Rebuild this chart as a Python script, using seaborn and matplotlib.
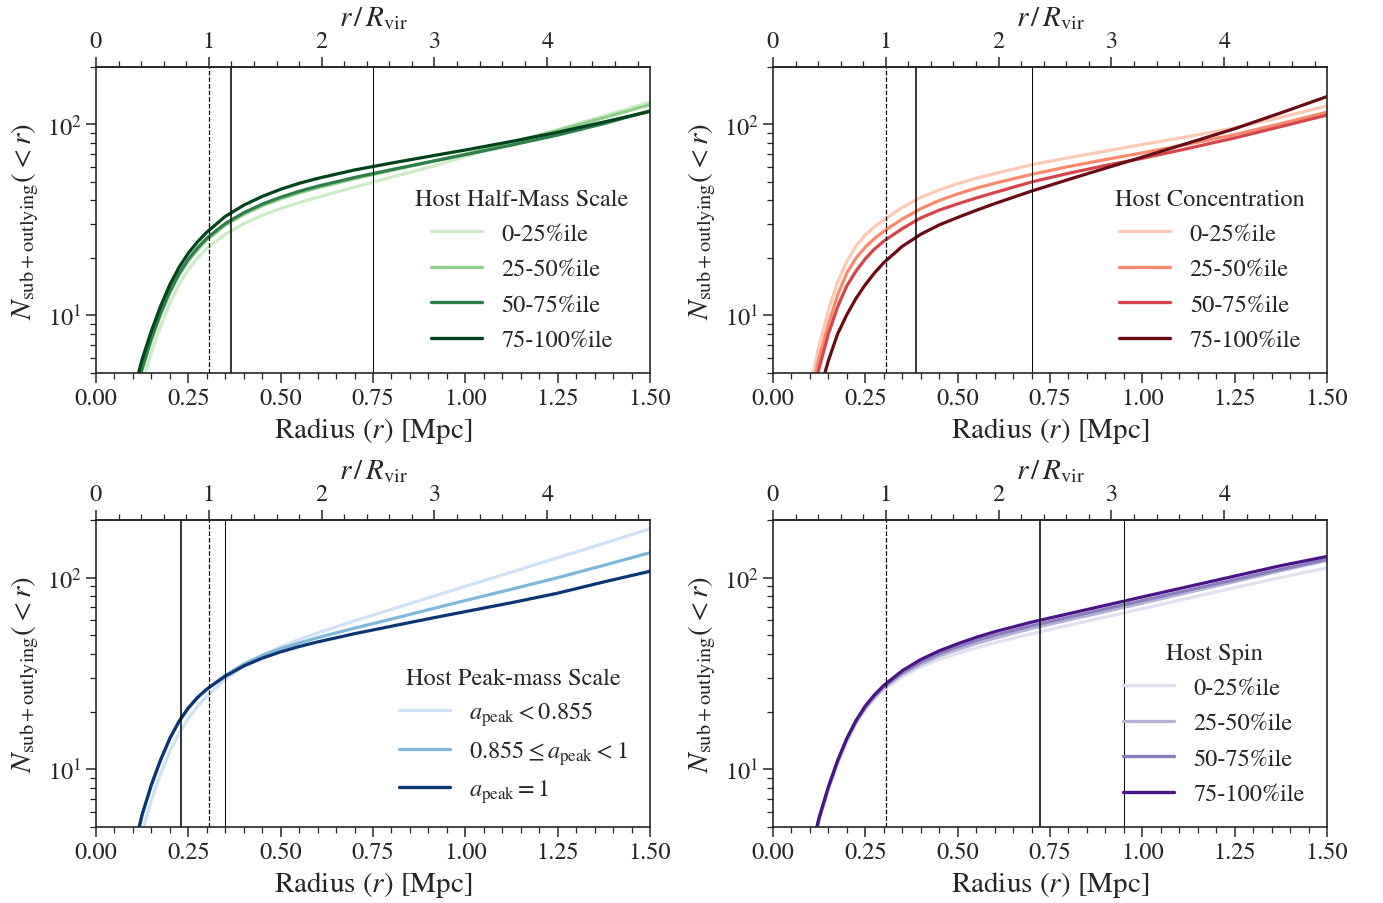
import numpy as np
import pandas as pd
import seaborn as sns
import matplotlib
matplotlib.use("Agg")
import matplotlib.pyplot as plt
from matplotlib.ticker import MultipleLocator, NullFormatter, LogLocator

# radius grid (Mpc) at which curves were read
radius = [0.10, 0.11, 0.125, 0.15, 0.175, 0.2, 0.225, 0.25, 0.275, 0.3, 0.35,
          0.4, 0.45, 0.5, 0.55, 0.6, 0.7, 0.8, 0.9, 1.0, 1.125, 1.25, 1.375, 1.5]
r_vir = 0.3055

pct_labels = ["0-25%ile", "25-50%ile", "50-75%ile", "75-100%ile"]
apeak_labels = [r"$a_{\rm peak} < 0.855$",
                r"$0.855 \leq a_{\rm peak} < 1$",
                r"$a_{\rm peak} = 1$"]

# host half-mass scale
halfmass_vals = [
    [2.6, 3.3, 4.4, 6.4, 8.8, 11.6, 14.5, 17.4, 20.0, 22.4, 26.6, 30.2, 33.4, 36.3, 39.0, 41.6, 47.0, 53, 59.5, 68, 80, 94, 111, 131],
    [3.1, 4.0, 5.2, 7.4, 10.1, 13.1, 16.3, 19.3, 22.1, 24.9, 29.7, 33.8, 37.5, 40.8, 43.8, 46.6, 52, 57.5, 63.5, 70, 80.5, 93, 108.5, 127],
    [3.2, 4.1, 5.3, 7.6, 10.3, 13.4, 16.6, 19.7, 22.6, 25.4, 30.3, 34.5, 38.3, 41.6, 44.7, 47.5, 52.8, 58, 63.5, 69.5, 78, 88, 101, 118],
    [3.6, 4.6, 5.9, 8.3, 11.2, 14.5, 17.9, 21.2, 24.3, 27.3, 33.0, 37.8, 42.0, 45.8, 49.2, 52.2, 57.8, 62.8, 68, 73.5, 81.5, 91, 103, 117],
]
# host concentration
conc_vals = [
    [4.0, 5.1, 7.0, 10.6, 15.0, 19.2, 23.1, 26.4, 29.2, 31.6, 36.8, 41.5, 45.4, 49.0, 52.3, 55.3, 61.5, 67, 72.5, 78.5, 86.5, 96, 109, 125],
    [3.5, 4.4, 6.0, 9.0, 12.8, 16.7, 20.0, 22.8, 25.3, 27.6, 32.0, 36.2, 40.0, 43.3, 46.4, 49.2, 54.8, 60.2, 65.5, 71, 79, 88.5, 101, 116],
    [3.2, 4.0, 5.3, 8.0, 11.1, 14.3, 17.1, 19.8, 22.3, 24.5, 28.5, 32.4, 35.6, 38.4, 41.2, 44.0, 50.0, 55.5, 61, 66.5, 75, 85, 97.5, 112],
    [2.2, 2.8, 3.9, 5.8, 8.0, 10.1, 12.3, 14.5, 16.7, 18.9, 23.0, 26.6, 29.8, 32.6, 35.5, 38.5, 44.8, 51.5, 59, 67.5, 80, 95, 115, 140],
]
# host peak-mass scale
apeak_vals = [
    [2.8, 3.5, 4.7, 6.9, 9.5, 12.4, 15.4, 18.4, 21.3, 24.1, 29.4, 34.5, 39.3, 43.6, 47.6, 51.5, 59.5, 68.3, 78.5, 90, 107, 127, 151, 180],
    [3.5, 4.4, 5.8, 8.3, 11.2, 14.5, 17.8, 20.9, 23.7, 26.2, 30.9, 35.4, 39.3, 42.6, 45.6, 48.6, 54.5, 60.8, 68, 76, 87, 100, 116, 135],
    [3.5, 4.4, 5.8, 8.3, 11.2, 14.5, 17.8, 20.9, 23.7, 26.2, 30.6, 34.6, 38.0, 41.0, 43.7, 46.2, 51.0, 55.8, 61, 66.5, 74, 83, 95, 108],
]
# host spin
spin_vals = [
    [3.2, 4.05, 5.4, 7.8, 10.7, 13.9, 17.3, 20.5, 23.3, 26.0, 30.4, 34.2, 37.4, 40.2, 43.0, 45.7, 51.0, 56.4, 62.3, 68.9, 78.2, 88.6, 100.3, 112.5],
    [3.25, 4.1, 5.5, 7.95, 10.9, 14.2, 17.6, 20.9, 23.8, 26.6, 31.3, 35.3, 39.0, 42.1, 45.3, 48.3, 54.3, 60.1, 66.5, 73.6, 83.8, 95.3, 108.7, 123],
    [3.3, 4.15, 5.55, 8.0, 11.0, 14.4, 17.8, 21.1, 24.1, 27.0, 31.9, 36.2, 40.1, 43.6, 46.9, 50.1, 56.1, 62.1, 68.7, 75.9, 86.1, 97.6, 110.6, 124.5],
    [3.3, 4.2, 5.6, 8.1, 11.1, 14.5, 18.0, 21.4, 24.5, 27.4, 32.7, 37.4, 41.5, 45.2, 48.8, 52.2, 58.6, 64.8, 71.7, 79.3, 89.9, 101.9, 115.5, 129],
]

# reference radii drawn as vertical lines (first, second) per panel
vlines = [[0.3655, 0.75], [0.387, 0.701], [0.230, 0.349], [0.723, 0.950]]

titles = ["Host Half-Mass Scale", "Host Concentration",
          "Host Peak-mass Scale", "Host Spin"]
palettes = [
    ["#cdebc6", "#8ccf8a", "#2f7f4d", "#00441b"],
    ["#fdc9b4", "#fb8a6c", "#d6454b", "#690a14"],
    ["#cfe1f2", "#7db8da", "#0c3575"],
    ["#e2e0ef", "#b5b2d7", "#8b7dbd", "#491488"],
]
panel_vals = [halfmass_vals, conc_vals, apeak_vals, spin_vals]
panel_labels = [pct_labels, pct_labels, apeak_labels, pct_labels]
spacings = [0.55, 0.55, 0.42, 0.55]

sns.set_style("ticks")
plt.rcParams["font.family"] = ["STIXGeneral", "DejaVu Serif"]
plt.rcParams["mathtext.fontset"] = "stix"
plt.rcParams["axes.linewidth"] = 1.2

fig = plt.figure(figsize=(13.83, 9.04), dpi=100)
boxes = [
    [0.0694, 0.5863, 0.4006, 0.3385],
    [0.5589, 0.5863, 0.4006, 0.3385],
    [0.0694, 0.0841, 0.4006, 0.3396],
    [0.5589, 0.0841, 0.4006, 0.3396],
]

for i in range(4):
    ax = fig.add_axes(boxes[i])
    labels = panel_labels[i]
    rows = []
    for lab, vals in zip(labels, panel_vals[i]):
        for r, v in zip(radius, vals):
            rows.append({"r": r, "N": v, "bin": lab})
    df = pd.DataFrame(rows)

    sns.lineplot(data=df, x="r", y="N", hue="bin", hue_order=labels,
                 palette=palettes[i], linewidth=2.3, ax=ax)

    ax.axvline(r_vir, color="k", ls="--", lw=0.9)
    ax.axvline(vlines[i][0], color="k", ls="-", lw=1.1)
    ax.axvline(vlines[i][1], color="k", ls="-", lw=0.7)

    ax.set_yscale("log")
    ax.set_xlim(0, 1.5)
    ax.set_ylim(5, 200)
    ax.xaxis.set_major_locator(MultipleLocator(0.25))
    ax.xaxis.set_minor_locator(MultipleLocator(0.05))
    ax.yaxis.set_minor_locator(LogLocator(base=10, subs=np.arange(2, 10)))
    ax.yaxis.set_minor_formatter(NullFormatter())
    ax.tick_params(which="major", length=7, width=1.1, labelsize=17.5)
    ax.tick_params(which="minor", length=4, width=0.9)
    ax.set_xlabel(r"Radius ($r$) [Mpc]", fontsize=21)
    ax.set_ylabel(r"$N_{\rm sub+outlying}(<r)$", fontsize=21)

    sec = ax.secondary_xaxis("top", functions=(lambda x: x / r_vir,
                                                lambda x: x * r_vir))
    sec.set_xticks([0, 1, 2, 3, 4])
    sec.xaxis.set_minor_locator(MultipleLocator(0.2))
    sec.tick_params(which="major", length=7, width=1.1, labelsize=17.5)
    sec.tick_params(which="minor", length=4, width=0.9)
    sec.set_xlabel(r"$r\,/\,R_{\rm vir}$", fontsize=21)

    sns.move_legend(ax, "lower right", frameon=False, title=titles[i],
                    fontsize=17.5, title_fontsize=17.5, handlelength=2.1,
                    labelspacing=spacings[i])
    for h in ax.get_legend().get_lines():
        h.set_linewidth(2.4)

fig.savefig("out.png", dpi=100)
